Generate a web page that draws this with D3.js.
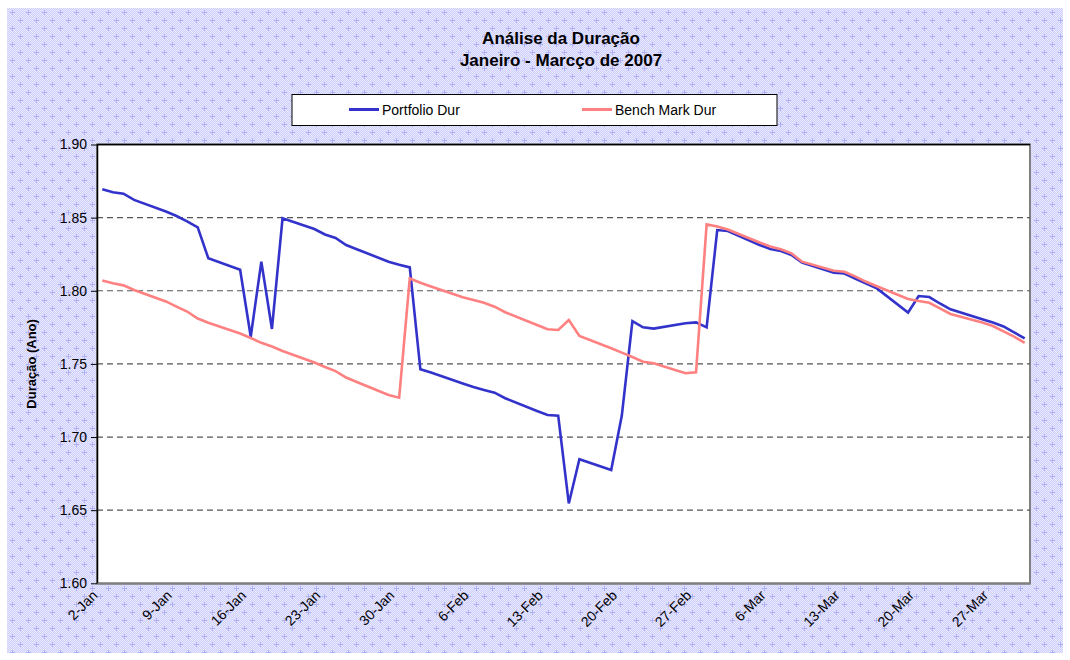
<!DOCTYPE html>
<html>
<head>
<meta charset="utf-8">
<script src="https://cdn.jsdelivr.net/npm/d3@7"></script>
<style>
  html, body { margin: 0; padding: 0; background: #ffffff; }
  svg { display: block; }
  text { font-family: "Liberation Sans", Arial, sans-serif; }
</style>
</head>
<body>
<svg id="chart" width="1070" height="660"></svg>
<script>
// ---------- DATA ----------
const dates = [
  "2007-01-02","2007-01-03","2007-01-04","2007-01-05",
  "2007-01-08","2007-01-09","2007-01-10","2007-01-11","2007-01-12",
  "2007-01-15","2007-01-16","2007-01-17","2007-01-18","2007-01-19",
  "2007-01-22","2007-01-23","2007-01-24","2007-01-25","2007-01-26",
  "2007-01-29","2007-01-30","2007-01-31","2007-02-01","2007-02-02",
  "2007-02-05","2007-02-06","2007-02-07","2007-02-08","2007-02-09",
  "2007-02-12","2007-02-13","2007-02-14","2007-02-15","2007-02-16",
  "2007-02-19","2007-02-20","2007-02-21","2007-02-22","2007-02-23",
  "2007-02-26","2007-02-27","2007-02-28","2007-03-01","2007-03-02",
  "2007-03-05","2007-03-06","2007-03-07","2007-03-08","2007-03-09",
  "2007-03-12","2007-03-13","2007-03-14","2007-03-15","2007-03-16",
  "2007-03-19","2007-03-20","2007-03-21","2007-03-22","2007-03-23",
  "2007-03-26","2007-03-27","2007-03-28","2007-03-29","2007-03-30"
];
const portfolioDur = [
  1.8694, 1.8673, 1.8664, 1.8621,
  1.8542, 1.8511, 1.8474, 1.8434, 1.8222,
  1.8144, 1.7686, 1.8199, 1.7739, 1.8495,
  1.8422, 1.8385, 1.8361, 1.8313, 1.8284,
  1.8199, 1.8178, 1.8160, 1.7463, 1.7441,
  1.7366, 1.7342, 1.7322, 1.7303, 1.7265,
  1.7178, 1.7151, 1.7146, 1.6546, 1.6848,
  1.6775, 1.7147, 1.7793, 1.7750, 1.7741,
  1.7778, 1.7784, 1.7750, 1.8415, 1.8409,
  1.8313, 1.8286, 1.8272, 1.8245, 1.8192,
  1.8124, 1.8118, 1.8084, 1.8051, 1.8019,
  1.7851, 1.7964, 1.7957, 1.7913, 1.7873,
  1.7805, 1.7783, 1.7756, 1.7715, 1.7675
];
const benchMarkDur = [
  1.8070, 1.8051, 1.8037, 1.8005,
  1.7927, 1.7892, 1.7858, 1.7810, 1.7781,
  1.7708, 1.7677, 1.7644, 1.7619, 1.7588,
  1.7510, 1.7479, 1.7451, 1.7407, 1.7376,
  1.7287, 1.7269, 1.8084, 1.8055, 1.8029,
  1.7955, 1.7937, 1.7918, 1.7891, 1.7853,
  1.7766, 1.7737, 1.7732, 1.7800, 1.7691,
  1.7607, 1.7577, 1.7547, 1.7515, 1.7504,
  1.7436, 1.7443, 1.8454, 1.8439, 1.8419,
  1.8330, 1.8303, 1.8284, 1.8256, 1.8199,
  1.8137, 1.8130, 1.8098, 1.8063, 1.8033,
  1.7944, 1.7930, 1.7918, 1.7879, 1.7841,
  1.7783, 1.7759, 1.7722, 1.7687, 1.7643
];
const seriesNames = ["Portfolio Dur", "Bench Mark Dur"];
const yTicks = [1.60, 1.65, 1.70, 1.75, 1.80, 1.85, 1.90];
const xTickDates = ["2007-01-02","2007-01-09","2007-01-16","2007-01-23","2007-01-30",
  "2007-02-06","2007-02-13","2007-02-20","2007-02-27","2007-03-06","2007-03-13",
  "2007-03-20","2007-03-27"];
const xTickLabels = ["2-Jan","9-Jan","16-Jan","23-Jan","30-Jan","6-Feb","13-Feb",
  "20-Feb","27-Feb","6-Mar","13-Mar","20-Mar","27-Mar"];
const titleLines = ["Análise da Duração", "Janeiro - Marcço de 2007"];
const yTitle = "Duração (Ano)";
const xDomain = ["2007-01-02", "2007-03-31"];

// ---------- SETUP ----------
const parse = d3.timeParse("%Y-%m-%d");
const svg = d3.select("#chart");
const colors = ["#3333CC", "#FF8080"];

const plot = { left: 97, right: 1030, top: 144.5, bottom: 583.3 };

// background pattern
const defs = svg.append("defs");
const pat = defs.append("pattern")
  .attr("id", "bgpat").attr("patternUnits", "userSpaceOnUse")
  .attr("width", 16).attr("height", 16);
pat.append("rect").attr("width", 16).attr("height", 16).attr("fill", "#cfcffc");
for (let i = 0; i < 16; i++) {
  for (let j = 0; j < 16; j++) {
    if ((i + j) % 2 === 0) {
      pat.append("rect").attr("x", i).attr("y", j).attr("width", 1).attr("height", 1)
        .attr("fill", "#e8e8ff");
    }
  }
}
[[4, 4], [12, 12]].forEach(([cx, cy]) => {
  pat.append("rect").attr("x", cx - 2).attr("y", cy).attr("width", 5).attr("height", 1).attr("fill", "#b0b0f4");
  pat.append("rect").attr("x", cx).attr("y", cy - 2).attr("width", 1).attr("height", 5).attr("fill", "#b0b0f4");
});

svg.append("rect").attr("x", 7).attr("y", 8).attr("width", 1056).attr("height", 645)
  .attr("fill", "url(#bgpat)");

// scales
const x = d3.scaleTime()
  .domain(xDomain.map(parse))
  .range([plot.left, plot.right]);
const y = d3.scaleLinear()
  .domain([1.60, 1.90])
  .range([plot.bottom, plot.top]);

// plot area
svg.append("rect")
  .attr("x", plot.left).attr("y", plot.top)
  .attr("width", plot.right - plot.left).attr("height", plot.bottom - plot.top)
  .attr("fill", "#ffffff").attr("stroke", "#808080").attr("stroke-width", 2);

// gridlines
svg.append("g").selectAll("line")
  .data(yTicks.filter(t => t > 1.60 && t < 1.90))
  .join("line")
  .attr("x1", plot.left).attr("x2", plot.right)
  .attr("y1", d => y(d)).attr("y2", d => y(d))
  .attr("stroke", "#555555").attr("stroke-width", 1.2)
  .attr("stroke-dasharray", "6,4");

// top border black
svg.append("line")
  .attr("x1", plot.left).attr("x2", plot.right)
  .attr("y1", y(1.90)).attr("y2", y(1.90))
  .attr("stroke", "#000").attr("stroke-width", 1.5);

// y axis
const yAxis = svg.append("g")
  .attr("transform", `translate(${plot.left},0)`)
  .call(d3.axisLeft(y).tickValues(yTicks).tickFormat(d3.format(".2f")).tickSize(6).tickSizeOuter(0).tickPadding(4));
yAxis.select(".domain").attr("stroke", "#000").attr("stroke-width", 1.5);
yAxis.selectAll(".tick line").attr("stroke", "#000");
yAxis.selectAll("text").attr("font-size", 14).attr("fill", "#000")
  .attr("font-family", "Liberation Sans, Arial, sans-serif");

// x axis
const xAxis = svg.append("g")
  .attr("transform", `translate(0,${plot.bottom})`)
  .call(d3.axisBottom(x)
    .tickValues(xTickDates.map(parse))
    .tickFormat((d, i) => xTickLabels[i])
    .tickSize(0).tickSizeOuter(0));
xAxis.select(".domain").attr("stroke", "#808080").attr("stroke-width", 2);
xAxis.selectAll("text")
  .attr("font-size", 14).attr("fill", "#000")
  .attr("font-family", "Liberation Sans, Arial, sans-serif")
  .attr("text-anchor", "end")
  .attr("dy", null).attr("y", null)
  .attr("transform", "translate(1,13) rotate(-45)");

// lines
const noon = d => new Date(parse(d).getTime() + 12 * 3600 * 1000);
const line = d3.line().x(d => x(d[0])).y(d => y(d[1]));
[portfolioDur, benchMarkDur].forEach((vals, k) => {
  const pts = dates.map((d, i) => [noon(d), vals[i]]);
  svg.append("path")
    .datum(pts)
    .attr("d", line)
    .attr("fill", "none")
    .attr("stroke", colors[k])
    .attr("stroke-width", 2.6)
    .attr("stroke-linejoin", "miter");
});

// title
titleLines.forEach((t, i) => {
  svg.append("text")
    .attr("x", 561).attr("y", 44 + i * 22)
    .attr("text-anchor", "middle")
    .attr("font-size", 17).attr("font-weight", "bold")
    .text(t);
});

// y title
svg.append("text")
  .attr("transform", `translate(36,${(plot.top + plot.bottom) / 2}) rotate(-90)`)
  .attr("text-anchor", "middle")
  .attr("font-size", 13).attr("font-weight", "bold")
  .text(yTitle);

// legend
const lg = svg.append("g");
lg.append("rect").attr("x", 292).attr("y", 94.5).attr("width", 485).attr("height", 31)
  .attr("fill", "#fff").attr("stroke", "#000").attr("stroke-width", 1);
const legX = [349, 582];
seriesNames.forEach((n, k) => {
  lg.append("line").attr("x1", legX[k]).attr("x2", legX[k] + 30)
    .attr("y1", 109.5).attr("y2", 109.5)
    .attr("stroke", colors[k]).attr("stroke-width", 3);
  lg.append("text").attr("x", legX[k] + 33).attr("y", 114.5)
    .attr("font-size", 14).text(n);
});
</script>
</body>
</html>
